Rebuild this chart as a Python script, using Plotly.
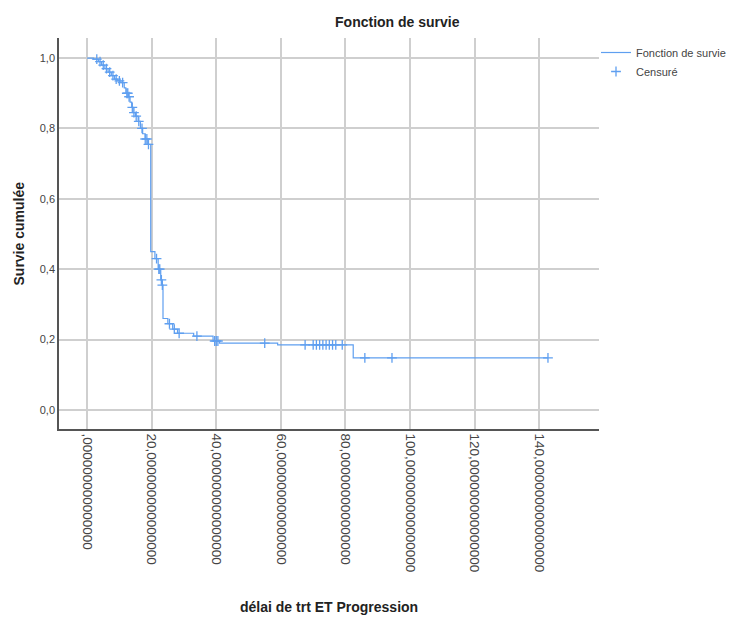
import numpy as np
import plotly.graph_objects as go

# Kaplan-Meier step function (time, survival after step)
step_times = [0, 2, 3.5, 4.5, 5.5, 6.5, 7.5, 8.5, 9.5, 10.5, 11.5, 12, 12.8, 13.3, 13.8,
              14.2, 15, 15.8, 16.5, 17.2, 18, 18.8, 19.7, 21, 22, 22.8, 23.2, 23.5, 25,
              26.5, 28, 33, 39, 41, 59, 82.4, 142.7]
step_surv = [1.0, 0.997, 0.99, 0.98, 0.97, 0.96, 0.95, 0.94, 0.935, 0.93, 0.915, 0.90, 0.89,
             0.875, 0.86, 0.845, 0.835, 0.82, 0.80, 0.785, 0.77, 0.755, 0.45, 0.43, 0.40,
             0.37, 0.355, 0.26, 0.245, 0.23, 0.218, 0.21, 0.196, 0.19, 0.185, 0.148, 0.148]

# censored observations
censor_times = [3, 4, 5, 6, 7, 8, 9, 10, 11, 12.3, 12.6, 13, 14, 14.5, 15.2, 16, 17, 18,
                18.5, 19, 21.5, 22.2, 22.5, 23, 23.3, 25.5, 27, 28.5, 34, 39.5, 40, 40.5,
                55, 67.5, 70, 71, 72, 73, 74, 75, 76, 77, 79, 86, 94.4, 142.7]

x_ticks = [0, 20, 40, 60, 80, 100, 120, 140]
x_ticktext = [",000000000000000", "20,000000000000000", "40,000000000000000",
              "60,000000000000000", "80,000000000000000", "100,000000000000000",
              "120,000000000000000", "140,000000000000000"]
y_ticks = [0, 0.2, 0.4, 0.6, 0.8, 1.0]
y_ticktext = ["0,0", "0,2", "0,4", "0,6", "0,8", "1,0"]

st = np.array(step_times)
ss = np.array(step_surv)
idx = np.searchsorted(st, np.array(censor_times), side="right") - 1
censor_surv = ss[idx]

blue = "#5f9ff0"
font = "Liberation Sans"

fig = go.Figure()
fig.add_trace(go.Scatter(x=step_times, y=step_surv, mode="lines", line_shape="hv",
                         line=dict(color=blue, width=1.2), name="Fonction de survie"))
fig.add_trace(go.Scatter(x=censor_times, y=censor_surv, mode="markers",
                         marker=dict(symbol="cross-thin", size=7,
                                     line=dict(color=blue, width=1.3)),
                         name="Censuré"))

fig.update_layout(
    width=729, height=618,
    margin=dict(l=59, r=130, t=38, b=189, autoexpand=False),
    paper_bgcolor="white", plot_bgcolor="white",
    font=dict(family=font, color="#333"),
    showlegend=True,
    legend=dict(xref="container", yref="container", x=596/729, xanchor="left",
                y=1 - 38/618, yanchor="top",
                font=dict(size=11, color="#444"), tracegroupgap=0,
                bgcolor="rgba(0,0,0,0)", itemwidth=30),
    title=dict(text="<b>Fonction de survie</b>", x=0.545, xanchor="center",
               y=1 - 22/618, yanchor="middle", font=dict(size=14, color="#222")),
    xaxis=dict(range=[-8.7, 158.5], tickvals=x_ticks, ticktext=x_ticktext,
               tickangle=90, tickfont=dict(size=13.5, color="#444"),
               showgrid=True, gridcolor="#cfcfcf", gridwidth=1.5,
               showline=True, linecolor="#555", linewidth=1.5,
               ticks="", zeroline=False, automargin=False),
    yaxis=dict(range=[-0.054, 1.057], tickvals=y_ticks, ticktext=y_ticktext,
               tickfont=dict(size=11, color="#444"),
               showgrid=True, gridcolor="#cfcfcf", gridwidth=1.5,
               showline=True, linecolor="#555", linewidth=1.5,
               ticks="", zeroline=False, automargin=False),
    annotations=[
        dict(text="<b>Survie cumulée</b>", xref="paper", yref="paper",
             x=-41/540, y=0.5, xanchor="center", yanchor="middle",
             textangle=-90, showarrow=False, font=dict(size=14, color="#222")),
        dict(text="<b>délai de trt ET Progression</b>", xref="paper", yref="paper",
             x=0.5, y=-178/391, xanchor="center", yanchor="middle",
             showarrow=False, font=dict(size=14, color="#222")),
    ],
)

fig.write_html("out.html")
